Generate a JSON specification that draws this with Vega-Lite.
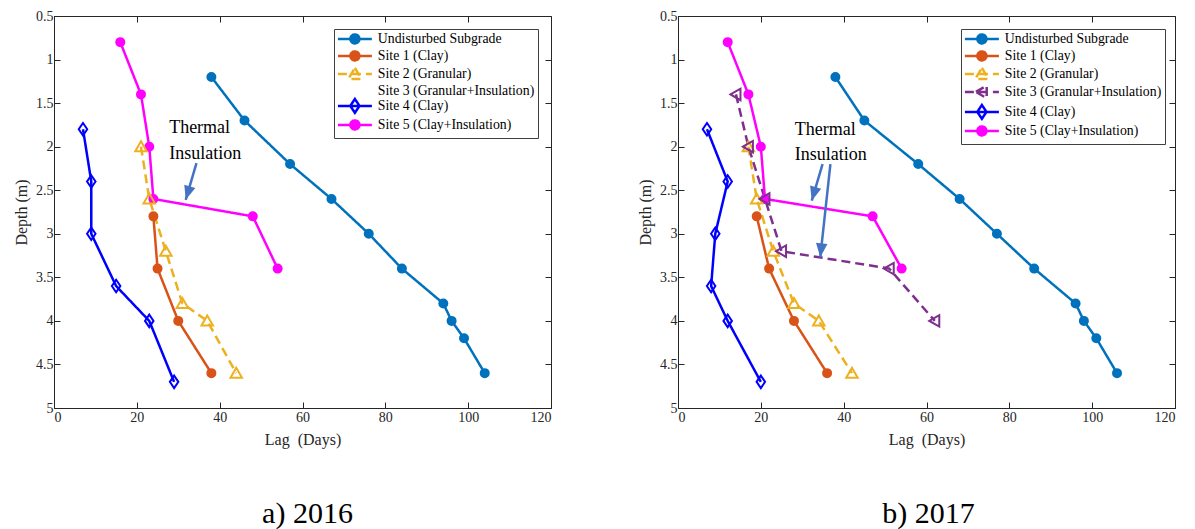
{
  "$schema": "https://vega.github.io/schema/vega-lite/v6.json",
  "padding": {"left": 13, "top": 8, "right": 8, "bottom": 5},
  "background": "white",
  "config": {
    "font": "Liberation Serif",
    "view": {"stroke": "#262626", "strokeWidth": 1},
    "axis": {
      "labelFont": "Liberation Serif", "titleFont": "Liberation Serif",
      "labelFontSize": 14, "titleFontSize": 16, "titleFontWeight": "normal",
      "labelColor": "#262626", "titleColor": "#262626",
      "domainColor": "#262626", "tickColor": "#262626",
      "grid": false, "tickSize": -6, "tickWidth": 1, "domainWidth": 1
    },
    "title": {"font": "Liberation Serif", "fontSize": 30, "fontWeight": "normal", "color": "black"}
  },
  "datasets": {
    "d2016": [
      {"series": "Undisturbed Subgrade", "lag": 38, "depth": 1.2},
      {"series": "Undisturbed Subgrade", "lag": 46, "depth": 1.7},
      {"series": "Undisturbed Subgrade", "lag": 57, "depth": 2.2},
      {"series": "Undisturbed Subgrade", "lag": 67, "depth": 2.6},
      {"series": "Undisturbed Subgrade", "lag": 76, "depth": 3.0},
      {"series": "Undisturbed Subgrade", "lag": 84, "depth": 3.4},
      {"series": "Undisturbed Subgrade", "lag": 94, "depth": 3.8},
      {"series": "Undisturbed Subgrade", "lag": 96, "depth": 4.0},
      {"series": "Undisturbed Subgrade", "lag": 99, "depth": 4.2},
      {"series": "Undisturbed Subgrade", "lag": 104, "depth": 4.6},
      {"series": "Site 1 (Clay)", "lag": 24, "depth": 2.8},
      {"series": "Site 1 (Clay)", "lag": 25, "depth": 3.4},
      {"series": "Site 1 (Clay)", "lag": 30, "depth": 4.0},
      {"series": "Site 1 (Clay)", "lag": 38, "depth": 4.6},
      {"series": "Site 2 (Granular)", "lag": 21, "depth": 2.0},
      {"series": "Site 2 (Granular)", "lag": 23, "depth": 2.6},
      {"series": "Site 2 (Granular)", "lag": 27, "depth": 3.2},
      {"series": "Site 2 (Granular)", "lag": 31, "depth": 3.8},
      {"series": "Site 2 (Granular)", "lag": 37, "depth": 4.0},
      {"series": "Site 2 (Granular)", "lag": 44, "depth": 4.6},
      {"series": "Site 4 (Clay)", "lag": 7, "depth": 1.8},
      {"series": "Site 4 (Clay)", "lag": 9, "depth": 2.4},
      {"series": "Site 4 (Clay)", "lag": 9, "depth": 3.0},
      {"series": "Site 4 (Clay)", "lag": 15, "depth": 3.6},
      {"series": "Site 4 (Clay)", "lag": 23, "depth": 4.0},
      {"series": "Site 4 (Clay)", "lag": 29, "depth": 4.7},
      {"series": "Site 5 (Clay+Insulation)", "lag": 16, "depth": 0.8},
      {"series": "Site 5 (Clay+Insulation)", "lag": 21, "depth": 1.4},
      {"series": "Site 5 (Clay+Insulation)", "lag": 23, "depth": 2.0},
      {"series": "Site 5 (Clay+Insulation)", "lag": 24, "depth": 2.6},
      {"series": "Site 5 (Clay+Insulation)", "lag": 48, "depth": 2.8},
      {"series": "Site 5 (Clay+Insulation)", "lag": 54, "depth": 3.4}
    ],
    "d2017": [
      {"series": "Undisturbed Subgrade", "lag": 38, "depth": 1.2},
      {"series": "Undisturbed Subgrade", "lag": 45, "depth": 1.7},
      {"series": "Undisturbed Subgrade", "lag": 58, "depth": 2.2},
      {"series": "Undisturbed Subgrade", "lag": 68, "depth": 2.6},
      {"series": "Undisturbed Subgrade", "lag": 77, "depth": 3.0},
      {"series": "Undisturbed Subgrade", "lag": 86, "depth": 3.4},
      {"series": "Undisturbed Subgrade", "lag": 96, "depth": 3.8},
      {"series": "Undisturbed Subgrade", "lag": 98, "depth": 4.0},
      {"series": "Undisturbed Subgrade", "lag": 101, "depth": 4.2},
      {"series": "Undisturbed Subgrade", "lag": 106, "depth": 4.6},
      {"series": "Site 1 (Clay)", "lag": 19, "depth": 2.8},
      {"series": "Site 1 (Clay)", "lag": 22, "depth": 3.4},
      {"series": "Site 1 (Clay)", "lag": 28, "depth": 4.0},
      {"series": "Site 1 (Clay)", "lag": 36, "depth": 4.6},
      {"series": "Site 2 (Granular)", "lag": 17, "depth": 2.0},
      {"series": "Site 2 (Granular)", "lag": 19, "depth": 2.6},
      {"series": "Site 2 (Granular)", "lag": 23, "depth": 3.2},
      {"series": "Site 2 (Granular)", "lag": 28, "depth": 3.8},
      {"series": "Site 2 (Granular)", "lag": 34, "depth": 4.0},
      {"series": "Site 2 (Granular)", "lag": 42, "depth": 4.6},
      {"series": "Site 3 (Granular+Insulation)", "lag": 14, "depth": 1.4},
      {"series": "Site 3 (Granular+Insulation)", "lag": 17, "depth": 2.0},
      {"series": "Site 3 (Granular+Insulation)", "lag": 21, "depth": 2.6},
      {"series": "Site 3 (Granular+Insulation)", "lag": 25, "depth": 3.2},
      {"series": "Site 3 (Granular+Insulation)", "lag": 51, "depth": 3.4},
      {"series": "Site 3 (Granular+Insulation)", "lag": 62, "depth": 4.0},
      {"series": "Site 4 (Clay)", "lag": 7, "depth": 1.8},
      {"series": "Site 4 (Clay)", "lag": 12, "depth": 2.4},
      {"series": "Site 4 (Clay)", "lag": 9, "depth": 3.0},
      {"series": "Site 4 (Clay)", "lag": 8, "depth": 3.6},
      {"series": "Site 4 (Clay)", "lag": 12, "depth": 4.0},
      {"series": "Site 4 (Clay)", "lag": 20, "depth": 4.7},
      {"series": "Site 5 (Clay+Insulation)", "lag": 12, "depth": 0.8},
      {"series": "Site 5 (Clay+Insulation)", "lag": 17, "depth": 1.4},
      {"series": "Site 5 (Clay+Insulation)", "lag": 20, "depth": 2.0},
      {"series": "Site 5 (Clay+Insulation)", "lag": 21, "depth": 2.6},
      {"series": "Site 5 (Clay+Insulation)", "lag": 47, "depth": 2.8},
      {"series": "Site 5 (Clay+Insulation)", "lag": 54, "depth": 3.4}
    ],
    "t2016": [
      {"label": "Thermal", "lag": 27.8, "depth": 1.79},
      {"label": "Insulation", "lag": 27.8, "depth": 2.08}
    ],
    "a2016": [
      {"arrow": "A", "lag": 34.4, "depth": 2.19, "lag2": 31.8, "depth2": 2.61}
    ],
    "t2017": [
      {"label": "Thermal", "lag": 28.2, "depth": 1.81},
      {"label": "Insulation", "lag": 28.2, "depth": 2.09}
    ],
    "a2017": [
      {"arrow": "A", "lag": 34.9, "depth": 2.2, "lag2": 32.3, "depth2": 2.62},
      {"arrow": "B", "lag": 36.8, "depth": 2.2, "lag2": 34.35, "depth2": 3.27}
    ]
  },
  "spacing": 127,
  "bounds": "flush",
  "resolve": {
    "scale": {"color": "independent", "stroke": "independent", "strokeDash": "independent", "x": "independent", "y": "independent"},
    "legend": {"color": "independent"}
  },
  "hconcat": [
    {
      "width": 497, "height": 392,
      "title": {"text": "a) 2016", "orient": "bottom", "frame": "group", "offset": 52, "dx": 5, "font": "Liberation Serif", "fontSize": 30, "fontWeight": "normal"},
      "resolve": {"axis": {"x": "independent", "y": "independent"}},
      "layer": [
        {
          "data": {"name": "d2016"},
          "mark": {"type": "line", "strokeWidth": 2.5},
          "encoding": {
            "x": {"field": "lag", "type": "quantitative", "scale": {"domain": [0, 120], "nice": false, "zero": false},
              "axis": {"values": [0, 20, 40, 60, 80, 100, 120], "title": "Lag\u00a0 (Days)", "labelPadding": 8, "titlePadding": 7,
                "labelFont": "Liberation Serif", "titleFont": "Liberation Serif", "labelFontSize": 14, "titleFontSize": 16, "titleFontWeight": "normal",
                "labelColor": "#262626", "titleColor": "#262626", "domainColor": "#262626", "tickColor": "#262626", "tickSize": -6, "grid": false}},
            "y": {"field": "depth", "type": "quantitative", "scale": {"domain": [0.5, 5], "reverse": true, "nice": false, "zero": false},
              "axis": {"values": [0.5, 1, 1.5, 2, 2.5, 3, 3.5, 4, 4.5, 5], "format": "~g", "title": "Depth (m)", "labelPadding": 7, "titlePadding": 6,
                "labelFont": "Liberation Serif", "titleFont": "Liberation Serif", "labelFontSize": 14, "titleFontSize": 16, "titleFontWeight": "normal",
                "labelColor": "#262626", "titleColor": "#262626", "domainColor": "#262626", "tickColor": "#262626", "tickSize": -6, "grid": false}},
            "color": {"field": "series", "type": "nominal",
              "scale": {"domain": ["Undisturbed Subgrade", "Site 1 (Clay)", "Site 2 (Granular)", "Site 3 (Granular+Insulation)", "Site 4 (Clay)", "Site 5 (Clay+Insulation)"],
                        "range": ["#0072BD", "#D95319", "#EDB120", "#7E2F8E", "#0000FF", "#FF00FF"]},
              "legend": {
                "orient": "none", "legendX": 280, "legendY": 13, "title": null,
                "strokeColor": "#404040", "fillColor": "white", "padding": 3,
                "labelFont": "Liberation Serif", "labelFontSize": 13.8, "labelColor": "black", "labelLimit": 400,
                "symbolSize": 100, "symbolStrokeWidth": 2.5, "labelOffset": 27, "rowPadding": -4,
                "encode": {"symbols": {"update": {
                  "shape": {"signal": "datum.value == 'Site 2 (Granular)' ? 'M-1.2,0H5.6M2.2,-1.2L3.52,1.02L0.88,1.02Z' : datum.value == 'Site 3 (Granular+Insulation)' ? 'M-1.2,0H5.6M1,0L3.16,-1.26L3.16,1.26Z' : datum.value == 'Site 4 (Clay)' ? 'M-1.2,0H5.6M2.2,-1.38L3.12,0L2.2,1.38L1.28,0Z' : 'M-1.2,0H5.6M3.1,0A0.9,0.9,0,1,1,1.3,0A0.9,0.9,0,1,1,3.1,0Z'"},
                  "fill": {"signal": "datum.value == 'Undisturbed Subgrade' ? '#0072BD' : datum.value == 'Site 1 (Clay)' ? '#D95319' : datum.value == 'Site 5 (Clay+Insulation)' ? '#FF00FF' : 'transparent'"},
                  "fillOpacity": {"signal": "datum.value == 'Site 2 (Granular)' || datum.value == 'Site 3 (Granular+Insulation)' || datum.value == 'Site 4 (Clay)' ? 0 : 1"},
                  "strokeDash": {"signal": "datum.value == 'Site 2 (Granular)' || datum.value == 'Site 3 (Granular+Insulation)' ? [6, 3] : [1, 0]"},
                  "opacity": {"signal": "datum.value == 'Site 3 (Granular+Insulation)' ? 0 : 1"}
                }}}
              }},
            "strokeDash": {"field": "series", "type": "nominal",
              "scale": {"domain": ["Undisturbed Subgrade", "Site 1 (Clay)", "Site 2 (Granular)", "Site 3 (Granular+Insulation)", "Site 4 (Clay)", "Site 5 (Clay+Insulation)"],
                        "range": [[1, 0], [1, 0], [9, 5], [9, 5], [1, 0], [1, 0]]},
              "legend": null},
            "order": {"field": "depth", "type": "quantitative"}
          }
        },
        {
          "data": {"name": "d2016"},
          "transform": [{"filter": "datum.series == 'Undisturbed Subgrade' || datum.series == 'Site 1 (Clay)' || datum.series == 'Site 5 (Clay+Insulation)'"}],
          "mark": {"type": "point", "filled": true, "strokeWidth": 2, "opacity": 1, "size": 100, "shape": "M0.8,0A0.8,0.8,0,1,1,-0.8,0A0.8,0.8,0,1,1,0.8,0Z"},
          "encoding": {
            "x": {"field": "lag", "type": "quantitative", "scale": {"domain": [0, 120], "nice": false, "zero": false},
              "axis": {"orient": "top", "values": [0, 20, 40, 60, 80, 100, 120], "labels": false, "title": null, "domain": false, "tickSize": -6, "tickColor": "#262626", "grid": false}},
            "y": {"field": "depth", "type": "quantitative", "scale": {"domain": [0.5, 5], "reverse": true, "nice": false, "zero": false},
              "axis": {"orient": "right", "values": [0.5, 1, 1.5, 2, 2.5, 3, 3.5, 4, 4.5, 5], "labels": false, "title": null, "domain": false, "tickSize": -6, "tickColor": "#262626", "grid": false}},
            "color": {"field": "series", "type": "nominal", "legend": null},
            "stroke": {"field": "series", "type": "nominal", "legend": null,
              "scale": {"domain": ["Undisturbed Subgrade", "Site 1 (Clay)", "Site 2 (Granular)", "Site 3 (Granular+Insulation)", "Site 4 (Clay)", "Site 5 (Clay+Insulation)"],
                        "range": ["#0072BD", "#D95319", "#EDB120", "#7E2F8E", "#0000FF", "#FF00FF"]}}
          }
        },
        {
          "data": {"name": "d2016"},
          "transform": [{"filter": "datum.series == 'Site 2 (Granular)'"}],
          "mark": {"type": "point", "filled": false, "strokeWidth": 2, "opacity": 1, "size": 100, "color": "#EDB120", "shape": "M0,-1.1L1.15,0.9L-1.15,0.9Z"},
          "encoding": {
            "x": {"field": "lag", "type": "quantitative", "axis": null},
            "y": {"field": "depth", "type": "quantitative", "axis": null}
          }
        },
        {
          "data": {"name": "d2016"},
          "transform": [{"filter": "datum.series == 'Site 4 (Clay)'"}],
          "mark": {"type": "point", "filled": false, "strokeWidth": 2, "opacity": 1, "size": 100, "color": "#0000FF", "shape": "M0,-1.25L0.85,0L0,1.25L-0.85,0Z"},
          "encoding": {
            "x": {"field": "lag", "type": "quantitative", "axis": null},
            "y": {"field": "depth", "type": "quantitative", "axis": null}
          }
        },
        {
          "data": {"name": "t2016"},
          "mark": {"type": "text", "align": "left", "baseline": "middle", "font": "Liberation Serif", "fontSize": 18, "color": "black"},
          "encoding": {
            "x": {"field": "lag", "type": "quantitative", "axis": null},
            "y": {"field": "depth", "type": "quantitative", "axis": null},
            "text": {"field": "label"}
          }
        },
        {
          "data": {"name": "a2016"},
          "mark": {"type": "rule", "color": "#4472C4", "strokeWidth": 2.5},
          "encoding": {
            "x": {"field": "lag", "type": "quantitative", "axis": null},
            "y": {"field": "depth", "type": "quantitative", "axis": null},
            "x2": {"field": "lag2"},
            "y2": {"field": "depth2"}
          }
        },
        {
          "data": {"name": "a2016"},
          "mark": {"type": "point", "filled": true, "color": "#4472C4", "opacity": 1, "size": 164, "angle": 17, "shape": "M0,0L-0.9,-2.2L0.9,-2.2Z"},
          "encoding": {
            "x": {"field": "lag2", "type": "quantitative", "axis": null},
            "y": {"field": "depth2", "type": "quantitative", "axis": null}
          }
        }
      ]
    },
    {
      "width": 497, "height": 392,
      "title": {"text": "b) 2017", "orient": "bottom", "frame": "group", "offset": 52, "dx": 2, "font": "Liberation Serif", "fontSize": 30, "fontWeight": "normal"},
      "resolve": {"axis": {"x": "independent", "y": "independent"}},
      "layer": [
        {
          "data": {"name": "d2017"},
          "mark": {"type": "line", "strokeWidth": 2.5},
          "encoding": {
            "x": {"field": "lag", "type": "quantitative", "scale": {"domain": [0, 120], "nice": false, "zero": false},
              "axis": {"values": [0, 20, 40, 60, 80, 100, 120], "title": "Lag\u00a0 (Days)", "labelPadding": 8, "titlePadding": 7,
                "labelFont": "Liberation Serif", "titleFont": "Liberation Serif", "labelFontSize": 14, "titleFontSize": 16, "titleFontWeight": "normal",
                "labelColor": "#262626", "titleColor": "#262626", "domainColor": "#262626", "tickColor": "#262626", "tickSize": -6, "grid": false}},
            "y": {"field": "depth", "type": "quantitative", "scale": {"domain": [0.5, 5], "reverse": true, "nice": false, "zero": false},
              "axis": {"values": [0.5, 1, 1.5, 2, 2.5, 3, 3.5, 4, 4.5, 5], "format": "~g", "title": "Depth (m)", "labelPadding": 7, "titlePadding": 6,
                "labelFont": "Liberation Serif", "titleFont": "Liberation Serif", "labelFontSize": 14, "titleFontSize": 16, "titleFontWeight": "normal",
                "labelColor": "#262626", "titleColor": "#262626", "domainColor": "#262626", "tickColor": "#262626", "tickSize": -6, "grid": false}},
            "color": {"field": "series", "type": "nominal",
              "scale": {"domain": ["Undisturbed Subgrade", "Site 1 (Clay)", "Site 2 (Granular)", "Site 3 (Granular+Insulation)", "Site 4 (Clay)", "Site 5 (Clay+Insulation)"],
                        "range": ["#0072BD", "#D95319", "#EDB120", "#7E2F8E", "#0000FF", "#FF00FF"]},
              "legend": {
                "orient": "none", "legendX": 283, "legendY": 13, "title": null,
                "strokeColor": "#404040", "fillColor": "white", "padding": 3,
                "labelFont": "Liberation Serif", "labelFontSize": 13.8, "labelColor": "black", "labelLimit": 400,
                "symbolSize": 100, "symbolStrokeWidth": 2.5, "labelOffset": 27, "rowPadding": -4,
                "encode": {"symbols": {"update": {
                  "shape": {"signal": "datum.value == 'Site 2 (Granular)' ? 'M-1.2,0H5.6M2.2,-1.2L3.52,1.02L0.88,1.02Z' : datum.value == 'Site 3 (Granular+Insulation)' ? 'M-1.2,0H5.6M1,0L3.16,-1.26L3.16,1.26Z' : datum.value == 'Site 4 (Clay)' ? 'M-1.2,0H5.6M2.2,-1.38L3.12,0L2.2,1.38L1.28,0Z' : 'M-1.2,0H5.6M3.1,0A0.9,0.9,0,1,1,1.3,0A0.9,0.9,0,1,1,3.1,0Z'"},
                  "fill": {"signal": "datum.value == 'Undisturbed Subgrade' ? '#0072BD' : datum.value == 'Site 1 (Clay)' ? '#D95319' : datum.value == 'Site 5 (Clay+Insulation)' ? '#FF00FF' : 'transparent'"},
                  "fillOpacity": {"signal": "datum.value == 'Site 2 (Granular)' || datum.value == 'Site 3 (Granular+Insulation)' || datum.value == 'Site 4 (Clay)' ? 0 : 1"},
                  "strokeDash": {"signal": "datum.value == 'Site 2 (Granular)' || datum.value == 'Site 3 (Granular+Insulation)' ? [6, 3] : [1, 0]"},
                  "opacity": {"value": 1}
                }}}
              }},
            "strokeDash": {"field": "series", "type": "nominal",
              "scale": {"domain": ["Undisturbed Subgrade", "Site 1 (Clay)", "Site 2 (Granular)", "Site 3 (Granular+Insulation)", "Site 4 (Clay)", "Site 5 (Clay+Insulation)"],
                        "range": [[1, 0], [1, 0], [9, 5], [9, 5], [1, 0], [1, 0]]},
              "legend": null},
            "order": {"field": "depth", "type": "quantitative"}
          }
        },
        {
          "data": {"name": "d2017"},
          "transform": [{"filter": "datum.series == 'Undisturbed Subgrade' || datum.series == 'Site 1 (Clay)' || datum.series == 'Site 5 (Clay+Insulation)'"}],
          "mark": {"type": "point", "filled": true, "strokeWidth": 2, "opacity": 1, "size": 100, "shape": "M0.8,0A0.8,0.8,0,1,1,-0.8,0A0.8,0.8,0,1,1,0.8,0Z"},
          "encoding": {
            "x": {"field": "lag", "type": "quantitative", "scale": {"domain": [0, 120], "nice": false, "zero": false},
              "axis": {"orient": "top", "values": [0, 20, 40, 60, 80, 100, 120], "labels": false, "title": null, "domain": false, "tickSize": -6, "tickColor": "#262626", "grid": false}},
            "y": {"field": "depth", "type": "quantitative", "scale": {"domain": [0.5, 5], "reverse": true, "nice": false, "zero": false},
              "axis": {"orient": "right", "values": [0.5, 1, 1.5, 2, 2.5, 3, 3.5, 4, 4.5, 5], "labels": false, "title": null, "domain": false, "tickSize": -6, "tickColor": "#262626", "grid": false}},
            "color": {"field": "series", "type": "nominal", "legend": null},
            "stroke": {"field": "series", "type": "nominal", "legend": null,
              "scale": {"domain": ["Undisturbed Subgrade", "Site 1 (Clay)", "Site 2 (Granular)", "Site 3 (Granular+Insulation)", "Site 4 (Clay)", "Site 5 (Clay+Insulation)"],
                        "range": ["#0072BD", "#D95319", "#EDB120", "#7E2F8E", "#0000FF", "#FF00FF"]}}
          }
        },
        {
          "data": {"name": "d2017"},
          "transform": [{"filter": "datum.series == 'Site 2 (Granular)'"}],
          "mark": {"type": "point", "filled": false, "strokeWidth": 2, "opacity": 1, "size": 100, "color": "#EDB120", "shape": "M0,-1.1L1.15,0.9L-1.15,0.9Z"},
          "encoding": {
            "x": {"field": "lag", "type": "quantitative", "axis": null},
            "y": {"field": "depth", "type": "quantitative", "axis": null}
          }
        },
        {
          "data": {"name": "d2017"},
          "transform": [{"filter": "datum.series == 'Site 3 (Granular+Insulation)'"}],
          "mark": {"type": "point", "filled": false, "strokeWidth": 2, "opacity": 1, "size": 100, "color": "#7E2F8E", "shape": "M-1.1,0L0.9,-1.15L0.9,1.15Z"},
          "encoding": {
            "x": {"field": "lag", "type": "quantitative", "axis": null},
            "y": {"field": "depth", "type": "quantitative", "axis": null}
          }
        },
        {
          "data": {"name": "d2017"},
          "transform": [{"filter": "datum.series == 'Site 4 (Clay)'"}],
          "mark": {"type": "point", "filled": false, "strokeWidth": 2, "opacity": 1, "size": 100, "color": "#0000FF", "shape": "M0,-1.25L0.85,0L0,1.25L-0.85,0Z"},
          "encoding": {
            "x": {"field": "lag", "type": "quantitative", "axis": null},
            "y": {"field": "depth", "type": "quantitative", "axis": null}
          }
        },
        {
          "data": {"name": "t2017"},
          "mark": {"type": "text", "align": "left", "baseline": "middle", "font": "Liberation Serif", "fontSize": 18, "color": "black"},
          "encoding": {
            "x": {"field": "lag", "type": "quantitative", "axis": null},
            "y": {"field": "depth", "type": "quantitative", "axis": null},
            "text": {"field": "label"}
          }
        },
        {
          "data": {"name": "a2017"},
          "mark": {"type": "rule", "color": "#4472C4", "strokeWidth": 2.5},
          "encoding": {
            "x": {"field": "lag", "type": "quantitative", "axis": null},
            "y": {"field": "depth", "type": "quantitative", "axis": null},
            "x2": {"field": "lag2"},
            "y2": {"field": "depth2"}
          }
        },
        {
          "data": {"name": "a2017"},
          "transform": [{"filter": "datum.arrow == 'A'"}],
          "mark": {"type": "point", "filled": true, "color": "#4472C4", "opacity": 1, "size": 164, "angle": 16, "shape": "M0,0L-0.9,-2.2L0.9,-2.2Z"},
          "encoding": {
            "x": {"field": "lag2", "type": "quantitative", "axis": null},
            "y": {"field": "depth2", "type": "quantitative", "axis": null}
          }
        },
        {
          "data": {"name": "a2017"},
          "transform": [{"filter": "datum.arrow == 'B'"}],
          "mark": {"type": "point", "filled": true, "color": "#4472C4", "opacity": 1, "size": 164, "angle": 6, "shape": "M0,0L-0.9,-2.2L0.9,-2.2Z"},
          "encoding": {
            "x": {"field": "lag2", "type": "quantitative", "axis": null},
            "y": {"field": "depth2", "type": "quantitative", "axis": null}
          }
        }
      ]
    }
  ]
}
